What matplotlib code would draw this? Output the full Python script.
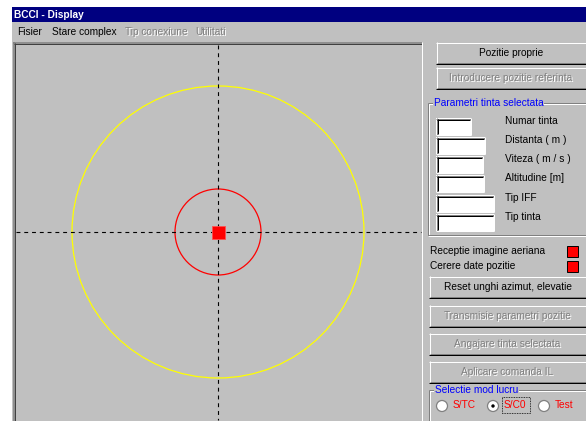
import matplotlib.pyplot as plt
from matplotlib.patches import Rectangle, Circle
from matplotlib import font_manager

W, H = 586, 421
GRAY = "#c0c0c0"
DARK = "#808080"
names = {f.name for f in font_manager.fontManager.ttflist}
if "Liberation Sans Narrow" in names:
    FONT, FS = "Liberation Sans Narrow", 8.4
else:
    FONT, FS = "Liberation Sans", 7.3

# scope data (pixel units of the screen)
center = (218, 232)
ring_radii = [146, 43]
ring_colors = ["#ffff00", "#ff0000"]
target_size = 13

menu_items = ["Fisier", "Stare complex", "Tip conexiune", "Utilitati"]
menu_x = [17, 52, 125, 195]
menu_enabled = [True, True, False, False]

buttons = ["Pozitie proprie", "Introducere pozitie referinta",
           "Reset unghi azimut, elevatie", "Transmisie parametri pozitie",
           "Angajare tinta selectata", "Aplicare comanda IL"]
button_y = [42, 67, 276, 305, 333, 361]
button_x = [436, 436, 429, 429, 429, 429]
button_enabled = [True, False, True, False, False, False]

fields = ["Numar tinta", "Distanta ( m )", "Viteza ( m / s )",
          "Altitudine [m]", "Tip IFF", "Tip tinta"]
field_y = [118, 137, 156, 175, 195, 214]
field_w = [35, 49, 47, 48, 58, 58]
field_label_x = [505, 505, 505, 505, 505, 505]

indicators = ["Receptie imagine aeriana", "Cerere date pozitie"]
indicator_y = [251, 266]

modes = ["S/TC", "S/C0", "Test"]
mode_x = [442, 493, 544]
mode_selected = [False, True, False]

fig = plt.figure(figsize=(W / 100, H / 100), dpi=100)
ax = fig.add_axes([0, 0, 1, 1])
ax.set_xlim(0, W)
ax.set_ylim(H, 0)
ax.axis("off")
fig.patch.set_facecolor("white")


def rect(x, y, w, h, **kw):
    ax.add_patch(Rectangle((x, y), w, h, **kw))


def hline(x0, x1, y, c, lw=1.0):
    ax.plot([x0, x1], [y, y], color=c, lw=lw * 0.72, solid_capstyle="butt")


def vline(x, y0, y1, c, lw=1.0):
    ax.plot([x, x], [y0, y1], color=c, lw=lw * 0.72, solid_capstyle="butt")


def text(x, y, s, color="black", size=None, ha="left", disabled=False, **kw):
    size = size or FS
    if disabled:
        ax.text(x + 1, y + 1, s, color="white", fontsize=size, ha=ha,
                va="center", family=FONT, **kw)
        color = DARK
    ax.text(x, y, s, color=color, fontsize=size, ha=ha, va="center",
            family=FONT, **kw)


def raised(x, y, w, h):
    rect(x, y, w, h, facecolor=GRAY, edgecolor="none")
    hline(x, x + w, y + 0.5, "white")
    vline(x + 0.5, y, y + h, "white")
    hline(x, x + w, y + h - 0.5, "black")
    vline(x + w - 0.5, y, y + h, "black")
    hline(x + 1, x + w - 1, y + h - 1.5, DARK)
    vline(x + w - 1.5, y + 1, y + h - 1, DARK)


def sunken(x, y, w, h, face="white"):
    rect(x, y, w, h, facecolor=face, edgecolor="none")
    hline(x, x + w, y + 0.5, DARK)
    vline(x + 0.5, y, y + h, DARK)
    hline(x + 1, x + w - 1, y + 1.5, "black")
    vline(x + 1.5, y + 1, y + h - 1, "black")
    hline(x, x + w, y + h - 0.5, "white")
    vline(x + w - 0.5, y, y + h, "white")


def group(x, y, w, h, title):
    hline(x, x + w, y, DARK)
    hline(x, x + w, y + 1, "white")
    vline(x, y, y + h, DARK)
    vline(x + 1, y + 1, y + h, "white")
    hline(x, x + w, y + h - 1, DARK)
    hline(x, x + w, y + h, "white")
    t = ax.text(x + 6, y, title, color="#0000ff", fontsize=FS,
                va="center", family=FONT)
    t.set_bbox(dict(facecolor=GRAY, edgecolor="none", pad=0.5))


# window background
rect(12, 7, W - 12, H - 7, facecolor=GRAY, edgecolor="none")
rect(12, 7, W - 12, 15, facecolor="#000080", edgecolor="none")
text(14, 15, "BCCI - Display", color="white", weight="bold")

for name, mx, en in zip(menu_items, menu_x, menu_enabled):
    text(mx, 32, name, disabled=not en)

# scope panel
px0, py0, px1, py1 = 13, 42, 422, 421
hline(px0, px1, py0 + 0.5, DARK, 1.5)
vline(px0 + 0.5, py0, py1, DARK, 1.5)
hline(px0 + 1, px1, py0 + 2, "#404040")
vline(px0 + 2, py0 + 1, py1, "#404040")
vline(px1 - 0.5, py0, py1, "white")
hline(px0, px1, py1 - 0.5, "white")

cx, cy = center
ax.plot([px0 + 3, px1 - 1], [cy, cy], color="black", lw=0.8,
        dashes=(3.5, 3.5))
ax.plot([cx, cx], [py0 + 3, py1 - 1], color="black", lw=0.8,
        dashes=(3.5, 3.5))
for r, c in zip(ring_radii, ring_colors):
    ax.add_patch(Circle(center, r, facecolor="none", edgecolor=c, lw=0.9))
rect(cx - target_size / 2, cy - target_size / 2, target_size, target_size,
     facecolor="#ff0000", edgecolor="#ff5050", lw=0.6, zorder=5)

# buttons
for label, by, bx, en in zip(buttons, button_y, button_x, button_enabled):
    raised(bx, by, W - bx + 2, 22)
    text((bx + W) / 2, by + 11, label, ha="center", disabled=not en)

# parameter group
group(428, 103, W - 427, 133, "Parametri tinta selectata")
for label, fy, fw, lx in zip(fields, field_y, field_w, field_label_x):
    sunken(436, fy, fw, 17)
    text(lx, fy + 3, label)

# indicators
for label, iy in zip(indicators, indicator_y):
    text(430, iy, label)
    rect(567, iy - 5.5, 11, 11, facecolor="#ff0000", edgecolor="black",
         lw=0.7)

# mode group
group(429, 390, W - 428, 33, "Selectie mod lucru")
for label, mx, sel in zip(modes, mode_x, mode_selected):
    ax.add_patch(Circle((mx, 406), 5.5, facecolor="white", edgecolor=DARK,
                        lw=0.9))
    if sel:
        ax.add_patch(Circle((mx, 406), 1.7, facecolor="black",
                            edgecolor="none"))
    text(mx + 11, 405, label, color="#ff0000")
    if sel:
        rect(mx + 9, 397, 28, 16, facecolor="none", edgecolor="black",
             lw=0.6, linestyle=(0, (1, 1)))

fig.savefig("out.png", dpi=100)
